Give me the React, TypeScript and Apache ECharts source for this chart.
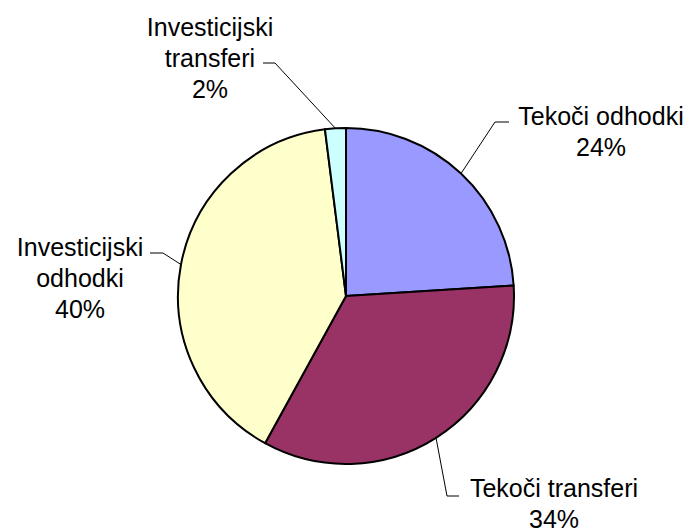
import React, { useEffect, useRef } from "react";
import * as echarts from "echarts";

const categories = ["Tekoči odhodki", "Tekoči transferi", "Investicijski\nodhodki", "Investicijski\ntransferi"];
const values = [24, 34, 40, 2];
const colors = ["#9999FF", "#993366", "#FFFFCC", "#CCFFFF"];

// label placement (text center, bend point, end of leader line)
const labelPos = [
  { x: 601, y: 131, bend: [495, 122], end: [509, 122] },
  { x: 554, y: 503, bend: [447, 496], end: [459, 496] },
  { x: 80, y: 278, bend: [163, 253], end: [150, 253] },
  { x: 210, y: 58, bend: [275, 63], end: [263, 63] },
];

export default function App() {
  const ref = useRef<HTMLDivElement>(null);
  useEffect(() => {
    const chart = echarts.init(ref.current!, null, { renderer: "svg" });
    chart.setOption({
      animation: false,
      backgroundColor: "#ffffff",
      series: [
        {
          type: "pie",
          center: [346, 296],
          radius: 168,
          startAngle: 90,
          clockwise: true,
          avoidLabelOverlap: false,
          data: categories.map((c, i) => ({
            name: c,
            value: values[i],
            itemStyle: { color: colors[i] },
          })),
          itemStyle: { borderColor: "#000000", borderWidth: 2 },
          label: {
            show: true,
            position: "outside",
            formatter: (p: any) => `${p.name}\n${Math.round(p.percent)}%`,
            fontFamily: "Liberation Sans, Arial, sans-serif",
            fontSize: 25,
            lineHeight: 31,
            color: "#000000",
            align: "center",
          },
          labelLine: {
            show: true,
            length: 20,
            length2: 10,
            lineStyle: { color: "#000000", width: 1 },
          },
          labelLayout: (params: any) => {
            const lp = labelPos[params.dataIndex];
            const start = params.labelLinePoints ? params.labelLinePoints[0] : lp.bend;
            return {
              x: lp.x,
              y: lp.y,
              align: "center",
              verticalAlign: "middle",
              labelLinePoints: [start, lp.bend, lp.end],
            };
          },
          emphasis: { disabled: true },
        },
      ],
    });
    return () => chart.dispose();
  }, []);
  return (
    <div
      ref={ref}
      style={{ position: "fixed", left: 0, top: 0, width: 693, height: 529 }}
    />
  );
}
